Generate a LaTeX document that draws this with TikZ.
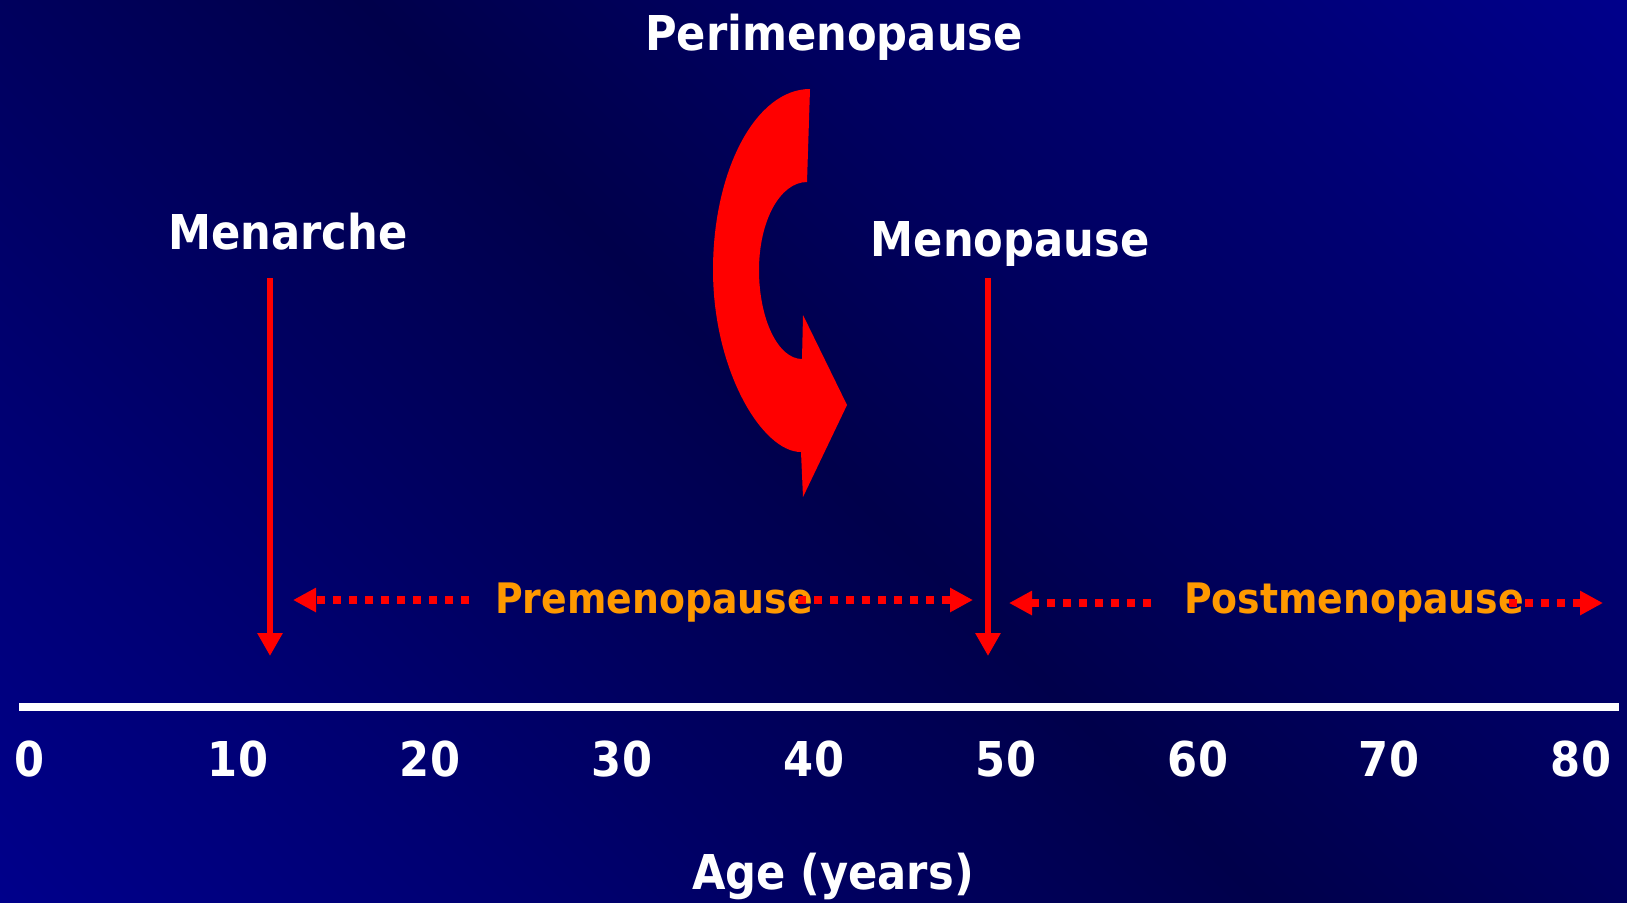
\documentclass[tikz,border=0pt]{standalone}
\usepackage{fontspec}
\setmainfont{DejaVu Sans Condensed}
\usepackage{xcolor}
\usepackage{tikz}
\usetikzlibrary{arrows.meta, positioning, calc}

\definecolor{bgbright}{RGB}{0,0,165}
\definecolor{bgdark}{RGB}{0,0,75}
\definecolor{labelorange}{RGB}{255,153,0}
\pgfdeclarehorizontalshading{slidebg}{100bp}{color(0bp)=(bgbright); color(50bp)=(bgdark); color(100bp)=(bgbright)}

\begin{document}
\begin{tikzpicture}[x=0.5pt, y=-0.5pt,
  bigtext/.style={text=white, font=\fontsize{24}{29}\selectfont\bfseries, anchor=base, inner sep=0pt},
  phasetext/.style={text=labelorange, font=\fontsize{21}{25}\selectfont\bfseries, anchor=base, inner sep=0pt},
  eventarrow/.style={red, line width=3pt, -{Triangle[length=11.5pt, width=12pt]}},
  phasearrow/.style={red, line width=4pt, dash pattern=on 4pt off 4pt, -{Triangle[length=11.5pt, width=11.5pt]}}]

\shade[shading=slidebg, shading angle=45] (0,0) rectangle (1627,902);
\useasboundingbox (0,0) rectangle (1627,902);

\node[bigtext] (peri) at (834,50) {Perimenopause};
\node[bigtext] (menarche) at (288,249) {Menarche};
\node[bigtext] (menopause) at (1010,256) {Menopause};

\fill[red] (810,89) -- (807,182)
  .. controls (780,182) and (759,221) .. (759,270)
  .. controls (759,319) and (778,359) .. (802,359)
  -- (803,315) -- (847,405) -- (803,497) -- (801,452)
  .. controls (762,452) and (713,370) .. (713,270)
  .. controls (713,170) and (756,89) .. (810,89) -- cycle;

\coordinate (menarchetop) at (270,278);
\coordinate (menarchetip) at (270,656);
\coordinate (menopausetop) at (988,278);
\coordinate (menopausetip) at (988,656);
\draw[eventarrow] (menarchetop) -- (menarchetip);
\draw[eventarrow] (menopausetop) -- (menopausetip);

\node[phasetext] (pre) at (654,613) {Premenopause};
\coordinate (preleft) at (469,600);
\coordinate (prelefttip) at (293,600);
\coordinate (preright) at (798,600);
\coordinate (prerighttip) at (973,600);
\draw[phasearrow] (preleft) -- (prelefttip);
\draw[phasearrow] (preright) -- (prerighttip);

\node[phasetext] (post) at (1354,613) {Postmenopause};
\coordinate (postleft) at (1151,603);
\coordinate (postlefttip) at (1009,603);
\coordinate (postright) at (1509,603);
\coordinate (postrighttip) at (1603,603);
\draw[phasearrow] (postleft) -- (postlefttip);
\draw[phasearrow] (postright) -- (postrighttip);

\coordinate (axisleft) at (19,707);
\coordinate (axisright) at (1619,707);
\draw[white, line width=4pt] (axisleft) -- (axisright);

\foreach \age/\x in {0/30, 10/238, 20/430, 30/622, 40/814, 50/1006, 60/1198, 70/1389, 80/1581}
  \node[bigtext] (age\age) at (\x,776) {\age};

\node[bigtext] (agelabel) at (833,889) {Age (years)};
\end{tikzpicture}
\end{document}
